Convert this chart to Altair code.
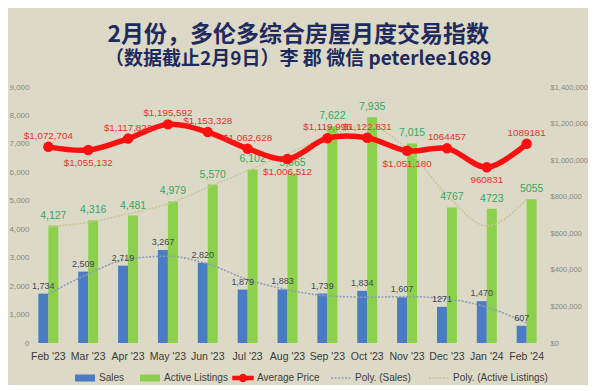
import altair as alt
import pandas as pd

# ---------------- data ----------------
months = ["Feb '23", "Mar '23", "Apr '23", "May '23", "Jun '23", "Jul '23", "Aug '23",
          "Sep '23", "Oct '23", "Nov '23", "Dec '23", "Jan '24", "Feb '24"]
sales = [1734, 2509, 2719, 3267, 2820, 1879, 1883, 1739, 1834, 1607, 1271, 1470, 607]
listings = [4127, 4316, 4481, 4979, 5570, 6102, 5965, 7622, 7935, 7015, 4767, 4723, 5055]
avg_price = [1072704, 1055132, 1117822, 1195592, 1153328, 1062628, 1006512,
             1119995, 1122831, 1051180, 1064457, 960831, 1089181]
sales_text = ["1,734", "2,509", "2,719", "3,267", "2,820", "1,879", "1,883",
              "1,739", "1,834", "1,607", "1271", "1,470", "607"]
listings_text = ["4,127", "4,316", "4,481", "4,979", "5,570", "6,102", "5,965",
                 "7,622", "7,935", "7,015", "4767", "4723", "5055"]
price_text = ["$1,072,704", "$1,055,132", "$1,117,822", "$1,195,592", "$1,153,328",
              "$1,062,628", "$1,006,512", "$1,119,995", "$1,122,831", "$1,051,180",
              "1064457", "960831", "1089181"]
price_label_side = ["above", "below", "above", "above", "above", "above", "below",
                    "above", "above", "below", "above", "below", "above"]
# polynomial trend lines
poly_sales = [1720, 2430, 2950, 3050, 2780, 2230, 1870, 1660, 1610, 1630, 1550, 1260, 700]
poly_listings = [4080, 4240, 4540, 4890, 5470, 6060, 6650, 7250, 7640, 6820, 5200, 4120, 5060]

bar_series = ["Sales", "Active Listings"]
bar_colors = ["#4a7bc4", "#8cd14b"]
price_series = ["Average Price"]
price_colors = ["#ff1010"]
poly_series = ["Poly. (Sales)", "Poly. (Active Listings)"]
poly_colors = ["#8e9fb9", "#c9c59c"]

title_text = "2月份，多伦多综合房屋月度交易指数"
subtitle_text = "（数据截止2月9日）李 郡 微信 peterlee1689"

# ---------------- tables ----------------
bars_df = pd.DataFrame(
    [{"month": m, "series": "Sales", "value": v, "label": t} for m, v, t in zip(months, sales, sales_text)]
    + [{"month": m, "series": "Active Listings", "value": v, "label": t}
       for m, v, t in zip(months, listings, listings_text)]
)
poly_df = pd.DataFrame(
    [{"month": m, "series": "Poly. (Sales)", "value": v} for m, v in zip(months, poly_sales)]
    + [{"month": m, "series": "Poly. (Active Listings)", "value": v} for m, v in zip(months, poly_listings)]
)
price_df = pd.DataFrame({"month": months, "price": avg_price, "label": price_text,
                         "side": price_label_side, "series": "Average Price"})

# ---------------- styling ----------------
FONT = "Liberation Sans"
CJK = "Noto Sans CJK SC"
BG = "#dcd9c6"

RECT = "M-1,-0.35L1,-0.35L1,0.35L-1,0.35Z"
LINEDOT = ("M-1,-0.14L1,-0.14L1,0.14L-1,0.14Z "
           "M-0.34,0A0.34,0.34,0,1,1,0.34,0A0.34,0.34,0,1,1,-0.34,0Z")

leg_common = dict(title=None, orient="none", legendY=280, direction="horizontal",
                  columnPadding=14, symbolSize=400, labelFont=FONT, labelFontSize=10,
                  labelColor="#404040", labelOffset=3)

fill_enc = alt.Fill("series:N", scale=alt.Scale(domain=bar_series, range=bar_colors),
                    legend=alt.Legend(legendX=42, columns=2, symbolType=RECT, **leg_common))
price_color = alt.Color("series:N", scale=alt.Scale(domain=price_series, range=price_colors),
                        legend=alt.Legend(legendX=200, columns=1, symbolType=LINEDOT, **leg_common))
poly_stroke = alt.Stroke("series:N", scale=alt.Scale(domain=poly_series, range=poly_colors),
                         legend=alt.Legend(legendX=298, columns=2, symbolType="stroke",
                                           symbolDash=[2, 1.5], symbolStrokeWidth=1.6, **leg_common))

x_enc = alt.X("month:N", sort=months, title=None,
              scale=alt.Scale(paddingInner=0.5, paddingOuter=0.16),
              axis=alt.Axis(labelAngle=0, labelFont=FONT, labelFontSize=10.5, labelColor="#3a3a3a",
                            domain=False, ticks=False, grid=False, labelPadding=8))
xoff_enc = alt.XOffset("series:N", sort=bar_series, scale=alt.Scale(domain=bar_series))
y_left = alt.Y("value:Q", title=None, scale=alt.Scale(domain=[0, 9000]),
               axis=alt.Axis(values=list(range(0, 9001, 1000)), format=",.0f", orient="left",
                             grid=False, domain=False, ticks=False, labelFont=FONT, labelFontSize=8,
                             labelColor="#8a897f", labelPadding=3))
y_right = alt.Y("price:Q", title=None, scale=alt.Scale(domain=[0, 1400000]),
                axis=alt.Axis(values=list(range(0, 1400001, 200000)), format="$,.0f", orient="right",
                              grid=False, domain=False, ticks=False, labelFont=FONT, labelFontSize=7.5,
                              labelColor="#8a897f", labelPadding=7))

# ---------------- left-axis group ----------------
bars = alt.Chart(bars_df).mark_bar().encode(x=x_enc, xOffset=xoff_enc, y=y_left, fill=fill_enc)
poly_lines = alt.Chart(poly_df).mark_line(
    interpolate="monotone", strokeDash=[2, 1.5], strokeWidth=1.6).encode(x=x_enc, y=y_left, stroke=poly_stroke)
sales_lbl = alt.Chart(bars_df).transform_filter("datum.series === 'Sales'").mark_text(
    dy=-8, font=FONT, fontSize=9, color="#3c4859").encode(x=x_enc, xOffset=xoff_enc, y=y_left, text="label:N")
list_lbl = alt.Chart(bars_df).transform_filter("datum.series === 'Active Listings'").mark_text(
    dy=-10, font=FONT, fontSize=10.5, color="#34a866").encode(x=x_enc, xOffset=xoff_enc, y=y_left, text="label:N")
left = alt.layer(bars, poly_lines, sales_lbl, list_lbl)

# ---------------- right-axis group ----------------
ppts = alt.Chart(price_df).mark_circle(size=110, opacity=1).encode(x=x_enc, y=y_right, color=price_color)
pline = alt.Chart(price_df).mark_line(interpolate="catmull-rom", strokeWidth=5.5).encode(
    x=x_enc, y=y_right, color=price_color)
plbl_up = alt.Chart(price_df).transform_filter("datum.side === 'above'").mark_text(
    dy=-11, font=FONT, fontSize=9.8, color="#e8322c").encode(x=x_enc, y=y_right, text="label:N")
plbl_dn = alt.Chart(price_df).transform_filter("datum.side === 'below'").mark_text(
    dy=13, font=FONT, fontSize=9.8, color="#e8322c").encode(x=x_enc, y=y_right, text="label:N")
right = alt.layer(ppts, pline, plbl_up, plbl_dn)

chart = alt.layer(left, right).resolve_scale(y="independent").properties(
    width=511, height=256,
    padding={"left": 0, "right": 0, "top": 16, "bottom": 0},
    title=alt.TitleParams(text=title_text, subtitle=subtitle_text, font=CJK, fontSize=23,
                          fontWeight="bold", color="#1f2b5e", subtitleFont=CJK, subtitleFontSize=19,
                          subtitleFontWeight="bold", subtitleColor="#1f2b5e", subtitlePadding=3,
                          anchor="middle", frame="bounds", offset=14),
).configure(background=BG).configure_view(stroke=None)

chart.save("out.html", embed_options={"renderer": "svg", "actions": False})
